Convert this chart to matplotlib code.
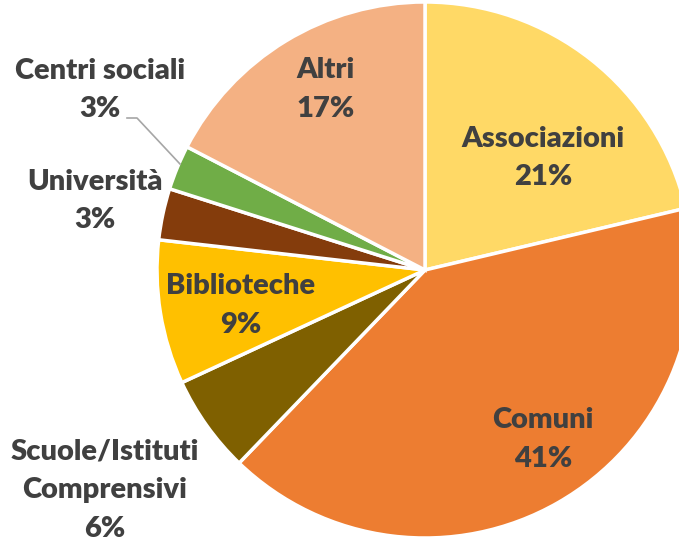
import numpy as np
import matplotlib
matplotlib.use("Agg")
import matplotlib.pyplot as plt

# slice data, clockwise from 12 o'clock
labels = ["Associazioni", "Comuni", "Scuole/Istituti\nComprensivi", "Biblioteche",
          "Università", "Centri sociali", "Altri"]
values = [21.3, 40.9, 5.9, 8.7, 3.1, 2.7, 17.4]
pct_text = ["21%", "41%", "6%", "9%", "3%", "3%", "17%"]
colors = ["#FFD966", "#ED7D31", "#7F6000", "#FFC000", "#843C0C", "#70AD47", "#F4B183"]

W, H = 679, 541
cx, cy, R = 425, 270, 268  # pie centre / radius in pixels

fig = plt.figure(figsize=(W / 100, H / 100), dpi=100)
ax = fig.add_axes([0, 0, 1, 1])

wedges, _ = ax.pie(values, colors=colors, startangle=90, counterclock=False,
                   radius=1.0, wedgeprops=dict(edgecolor="white", linewidth=2.5))

ax.set_xlim(-cx / R, (W - cx) / R)
ax.set_ylim(-(H - cy) / R, cy / R)
ax.set_aspect("equal")
ax.axis("off")

txt_kw = dict(ha="center", va="center", color="#404040", fontsize=21,
              fontweight="heavy", family="Lato", linespacing=1.6)

# label placement: (radius, angle offset in degrees) relative to wedge mid-angle
inside = {0: (0.607, -8.2), 1: (0.77, 5.1), 3: (0.70, 1.8), 6: (0.77, -2.4)}
for i, w in enumerate(wedges):
    mid = np.deg2rad((w.theta1 + w.theta2) / 2)
    if i in inside:
        r, off = inside[i]
        a = mid + np.deg2rad(off)
        ax.text(r * np.cos(a), r * np.sin(a), labels[i] + "\n" + pct_text[i], **txt_kw)

# outside labels
def px(x, y):
    return (x - cx) / R, (cy - y) / R

ax.text(*px(105, 490), labels[2] + "\n" + pct_text[2], **txt_kw)
ax.text(*px(95, 201), labels[4] + "\n" + pct_text[4], **txt_kw)
ax.text(*px(100, 90), labels[5] + "\n" + pct_text[5], **txt_kw)

# leader line for Centri sociali
p0, p1, p2 = px(127, 118), px(137, 118), px(180, 164)
ax.plot([p0[0], p1[0], p2[0]], [p0[1], p1[1], p2[1]], color="#A6A6A6", lw=1.2)

fig.savefig("out.png", dpi=100, facecolor="white")
